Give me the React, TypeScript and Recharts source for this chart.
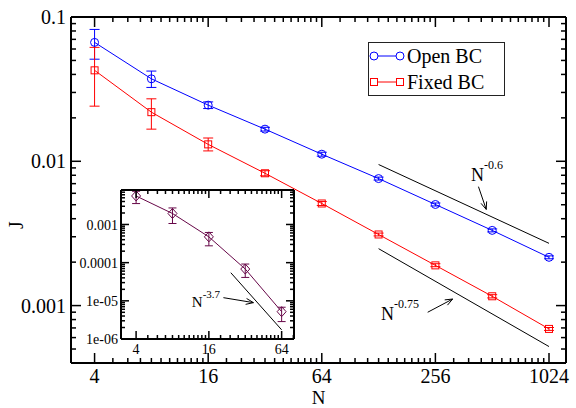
import { ComposedChart, Line, XAxis, YAxis, ErrorBar, ReferenceLine, Legend, CartesianGrid } from 'recharts';

const FONT = "'Liberation Serif', 'Times New Roman', Times, 'DejaVu Serif', serif";
const BLUE = '#0000ff';
const RED = '#ff0000';
const PURPLE = '#670748';

// main plot: J vs N
const N_MAIN = [4, 8, 16, 32, 64, 128, 256, 512, 1024];
const OPEN_J = [0.0667, 0.0373, 0.0245, 0.0167, 0.0112, 0.00759, 0.00502, 0.00332, 0.00216];
const OPEN_LO = [0.051, 0.0325, 0.0232, 0.0162, 0.01085, 0.00741, 0.0049, 0.00324, 0.00211];
const OPEN_HI = [0.082, 0.0422, 0.0258, 0.0172, 0.01155, 0.00777, 0.00514, 0.0034, 0.00221];
const FIXED_J = [0.0427, 0.0219, 0.0131, 0.00826, 0.0051, 0.00311, 0.0019, 0.00116, 0.000689];
const FIXED_LO = [0.0241, 0.0167, 0.0118, 0.00793, 0.00494, 0.00304, 0.00186, 0.00113, 0.000673];
const FIXED_HI = [0.0616, 0.0271, 0.0145, 0.0086, 0.00526, 0.00318, 0.00195, 0.00119, 0.000705];

// inset
const N_INSET = [4, 8, 16, 32, 64];
const INSET_J = [0.00558, 0.00194, 0.000474, 6.8e-5, 5.2e-6];
const INSET_LO = [0.00353, 0.00106, 0.000276, 4.1e-5, 2.86e-6];
const INSET_HI = [0.0074, 0.00271, 0.000618, 9.2e-5, 6.8e-6];

// guide lines (power laws) and their arrows
const GUIDE_06 = [{ x: 128, y: 0.0095 }, { x: 1024, y: 0.0027 }];
const GUIDE_075 = [{ x: 128, y: 0.00248 }, { x: 1024, y: 0.00052 }];
const GUIDE_37 = [{ x: 24.3, y: 5.45e-5 }, { x: 64, y: 1.74e-6 }];
const ARROW_06 = [{ x: 433, y: 0.00667 }, { x: 476, y: 0.00464 }];
const ARROW_075 = [{ x: 233, y: 0.000899 }, { x: 316, y: 0.00111 }];
const ARROW_37 = [{ x: 21.1, y: 1.21e-5 }, { x: 37.4, y: 8.97e-6 }];

const X_MAIN_MAJOR = [4, 16, 64, 256, 1024];
const X_INSET_MAJOR = [4, 16, 64];
const MAIN_X_DOMAIN = [3, 1260];
const MAIN_Y_DOMAIN = [0.0004, 0.1];
const INSET_X_DOMAIN = [3, 81];
const INSET_Y_DOMAIN = [1e-6, 0.008];

const mainData = N_MAIN.map((n, i) => ({
  n,
  open: OPEN_J[i],
  openErr: [OPEN_J[i] - OPEN_LO[i], OPEN_HI[i] - OPEN_J[i]],
  fixed: FIXED_J[i],
  fixedErr: [FIXED_J[i] - FIXED_LO[i], FIXED_HI[i] - FIXED_J[i]],
}));

const insetData = N_INSET.map((n, i) => ({
  n,
  j: INSET_J[i],
  err: [INSET_J[i] - INSET_LO[i], INSET_HI[i] - INSET_J[i]],
}));

// ticks: majors at powers of 4 with linear minor steps, decades on y
const pow4Ticks = (majors: number[], max: number) => {
  const t: number[] = [];
  majors.forEach((a) => {
    t.push(a);
    for (let k = 5; k <= 15; k++) if ((a * k) / 4 <= max) t.push((a * k) / 4);
  });
  return t;
};
const decadeTicks = (lo: number, hi: number) => {
  const t: number[] = [];
  for (let e = -7; e <= 0; e++) {
    for (let m = 1; m <= 9; m++) {
      const v = m * Math.pow(10, e);
      if (v >= lo * 0.999 && v <= hi * 1.001) t.push(v);
    }
  }
  return t;
};
const xMainTicks = pow4Ticks(X_MAIN_MAJOR, 1024).filter((v) => v <= 1024);
const yMainTicks = decadeTicks(MAIN_Y_DOMAIN[0], MAIN_Y_DOMAIN[1]);
const xInsetTicks = pow4Ticks(X_INSET_MAJOR, INSET_X_DOMAIN[1]);
const yInsetTicks = decadeTicks(INSET_Y_DOMAIN[0], INSET_Y_DOMAIN[1]);

const isDecade = (v: number) => Math.abs(Math.log10(v) - Math.round(Math.log10(v))) < 1e-6;
const isPow4 = (v: number) => {
  const l = Math.log(v) / Math.log(4);
  return Math.abs(l - Math.round(l)) < 1e-6;
};
const fmtMainY = (v: number) => String(Number(v.toPrecision(1)));
const fmtInsetY = (v: number) => {
  const e = Math.round(Math.log10(v));
  return e >= -4 ? String(Number(v.toPrecision(1))) : `1e-0${-e}`;
};

function makeTick(
  side: 'bottom' | 'top' | 'left' | 'right',
  isMajor: (v: number) => boolean,
  len: [number, number],
  format?: (v: number) => string,
  fontSize = 20,
  gap = 0
) {
  return (props: any) => {
    const { x, y, payload, index } = props;
    const v = payload.value;
    const major = isMajor(v);
    const L = major ? len[0] : len[1];
    let pts = [x, y, x, y];
    let text = null;
    if (side === 'bottom') {
      pts = [x, y, x, y - L];
      if (major && format)
        text = (
          <text x={x} y={y + gap} textAnchor="middle" fontSize={fontSize} style={{ fontFamily: FONT }} fill="#000">
            {format(v)}
          </text>
        );
    } else if (side === 'top') {
      pts = [x, y, x, y + L];
    } else if (side === 'left') {
      pts = [x, y, x + L, y];
      if (major && format)
        text = (
          <text x={x - gap} y={y} dy="0.36em" textAnchor="end" fontSize={fontSize} style={{ fontFamily: FONT }} fill="#000">
            {format(v)}
          </text>
        );
    } else {
      pts = [x, y, x - L, y];
    }
    return (
      <g key={`t-${side}-${index}`}>
        <line x1={pts[0]} y1={pts[1]} x2={pts[2]} y2={pts[3]} stroke="#000" strokeWidth={1.5} />
        {text}
      </g>
    );
  };
}

const circleDot = (p: any) =>
  p.cx == null ? <g key={`c-${p.index}`} /> : (
    <circle key={`c-${p.index}`} cx={p.cx} cy={p.cy} r={4} fill="none" stroke={BLUE} strokeWidth={1} />
  );
const squareDot = (p: any) =>
  p.cx == null ? <g key={`s-${p.index}`} /> : (
    <rect key={`s-${p.index}`} x={p.cx - 3.5} y={p.cy - 3.5} width={7} height={7} fill="none" stroke={RED} strokeWidth={1} />
  );
const diamondDot = (p: any) =>
  p.cx == null ? <g key={`d-${p.index}`} /> : (
    <path
      key={`d-${p.index}`}
      d={`M${p.cx},${p.cy - 5} L${p.cx + 4.5},${p.cy} L${p.cx},${p.cy + 5} L${p.cx - 4.5},${p.cy} Z`}
      fill="none"
      stroke={PURPLE}
      strokeWidth={1}
    />
  );

// arrow with a power-law label placed next to its tail
function arrowShape(exp: string, dx: number, dy: number, nSize: number, supSize: number, supRise: number) {
  return (props: any) => {
    const { x1, y1, x2, y2 } = props;
    if (x1 == null) return <g />;
    const ang = Math.atan2(y2 - y1, x2 - x1);
    const h = 8;
    const s = 0.38;
    const a = [x2 - h * Math.cos(ang - s), y2 - h * Math.sin(ang - s)];
    const b = [x2 - h * Math.cos(ang + s), y2 - h * Math.sin(ang + s)];
    return (
      <g>
        <line x1={x1} y1={y1} x2={x2} y2={y2} stroke="#000" strokeWidth={1} />
        <polyline points={`${a[0]},${a[1]} ${x2},${y2} ${b[0]},${b[1]}`} fill="none" stroke="#000" strokeWidth={1} />
        <text x={x1 + dx} y={y1 + dy} style={{ fontFamily: FONT }} fill="#000">
          <tspan fontSize={nSize}>N</tspan>
          <tspan fontSize={supSize} dy={-supRise}>{exp}</tspan>
        </text>
      </g>
    );
  };
}

const LEGEND_ITEMS = [
  { name: 'Open BC', color: BLUE, shape: 'circle' },
  { name: 'Fixed BC', color: RED, shape: 'square' },
];

const renderLegend = () => (
  <div
    style={{
      border: '1px solid #222',
      background: '#fff',
      width: 135,
      fontFamily: FONT,
      fontSize: 20,
      color: '#000',
    }}
  >
    {LEGEND_ITEMS.map((item) => (
      <div key={item.name} style={{ display: 'flex', alignItems: 'center', height: 26, lineHeight: '26px' }}>
        <svg width={38} height={26}>
          <line x1={5} y1={13} x2={31} y2={13} stroke={item.color} strokeWidth={1} />
          {[5, 31].map((cx) =>
            item.shape === 'circle' ? (
              <circle key={cx} cx={cx} cy={13} r={4} fill="#fff" stroke={item.color} />
            ) : (
              <rect key={cx} x={cx - 3.5} y={9.5} width={7} height={7} fill="#fff" stroke={item.color} />
            )
          )}
        </svg>
        <span>{item.name}</span>
      </div>
    ))}
  </div>
);

const axisLine = { stroke: '#000', strokeWidth: 2 };

export default function App() {
  return (
    <div style={{ position: 'absolute', left: 0, top: 0, width: 576, height: 408, background: '#fff', fontFamily: FONT }}>
      <ComposedChart width={576} height={408} data={mainData} margin={{ top: 0, right: 0, bottom: 0, left: 0 }}>
        <XAxis
          dataKey="n"
          type="number"
          scale="log"
          domain={MAIN_X_DOMAIN}
          allowDataOverflow
          ticks={xMainTicks}
          interval={0}
          height={45}
          tickSize={0}
          tickMargin={0}
          tickLine={false}
          axisLine={axisLine}
          tick={makeTick('bottom', isPow4, [10, 5], (v) => String(v), 20, 20)}
          label={(p: any) => {
            const vb = p.viewBox;
            return (
              <text x={vb.x + vb.width / 2} y={vb.y + 41} textAnchor="middle" fontSize={19} style={{ fontFamily: FONT }} fill="#000">
                N
              </text>
            );
          }}
        />
        <XAxis
          xAxisId="top"
          orientation="top"
          dataKey="n"
          type="number"
          scale="log"
          domain={MAIN_X_DOMAIN}
          allowDataOverflow
          ticks={xMainTicks}
          interval={0}
          height={17}
          tickSize={0}
          tickMargin={0}
          tickLine={false}
          axisLine={axisLine}
          tick={makeTick('top', isPow4, [10, 5])}
        />
        <YAxis
          type="number"
          scale="log"
          domain={MAIN_Y_DOMAIN}
          allowDataOverflow
          ticks={yMainTicks}
          interval={0}
          width={71}
          tickSize={0}
          tickMargin={0}
          tickLine={false}
          axisLine={axisLine}
          tick={makeTick('left', isDecade, [10, 5], fmtMainY, 20, 5)}
          label={(p: any) => {
            const vb = p.viewBox;
            const cx = vb.x + 16;
            const cy = vb.y + vb.height / 2 + 35;
            return (
              <text x={cx} y={cy} dy="0.36em" textAnchor="middle" style={{ fontFamily: FONT }} fontSize={20} fill="#000" transform={`rotate(-90, ${cx}, ${cy})`}>
                J
              </text>
            );
          }}
        />
        <YAxis
          yAxisId="right"
          orientation="right"
          type="number"
          scale="log"
          domain={MAIN_Y_DOMAIN}
          allowDataOverflow
          ticks={yMainTicks}
          interval={0}
          width={10}
          tickSize={0}
          tickMargin={0}
          tickLine={false}
          axisLine={axisLine}
          tick={makeTick('right', isDecade, [10, 5])}
        />
        <ReferenceLine segment={GUIDE_06} stroke="#000" strokeWidth={1} />
        <ReferenceLine segment={GUIDE_075} stroke="#000" strokeWidth={1} />
        <ReferenceLine segment={ARROW_06} shape={arrowShape('-0.6', -7.5, -6, 18, 12, 12)} />
        <ReferenceLine segment={ARROW_075} shape={arrowShape('-0.75', -46.6, 7.7, 18, 12, 12)} />
        <Line dataKey="open" stroke={BLUE} strokeWidth={1} dot={circleDot} activeDot={false} isAnimationActive={false}>
          <ErrorBar dataKey="openErr" width={5} stroke={BLUE} strokeWidth={1} direction="y" isAnimationActive={false} />
        </Line>
        <Line dataKey="fixed" stroke={RED} strokeWidth={1} dot={squareDot} activeDot={false} isAnimationActive={false}>
          <ErrorBar dataKey="fixedErr" width={5} stroke={RED} strokeWidth={1} direction="y" isAnimationActive={false} />
        </Line>
        <Legend
          layout="vertical"
          align="center"
          verticalAlign="middle"
          wrapperStyle={{ left: 368, top: 42, width: 'auto' }}
          content={renderLegend}
        />
      </ComposedChart>

      {/* inset */}
      <div style={{ position: 'absolute', left: 60, top: 180 }}>
        <ComposedChart width={244} height={180} data={insetData} margin={{ top: 0, right: 0, bottom: 0, left: 0 }}>
          <CartesianGrid fill="#fff" stroke="none" horizontal={false} vertical={false} />
          <XAxis
            dataKey="n"
            type="number"
            scale="log"
            domain={INSET_X_DOMAIN}
            allowDataOverflow
            ticks={xInsetTicks}
            interval={0}
            height={21}
            tickSize={0}
            tickMargin={0}
            tickLine={false}
            axisLine={axisLine}
            tick={makeTick('bottom', isPow4, [8, 4], (v) => String(v), 14, 15)}
          />
          <XAxis
            xAxisId="top"
            orientation="top"
            dataKey="n"
            type="number"
            scale="log"
            domain={INSET_X_DOMAIN}
            allowDataOverflow
            ticks={xInsetTicks}
            interval={0}
            height={10}
            tickSize={0}
            tickMargin={0}
            tickLine={false}
            axisLine={axisLine}
            tick={makeTick('top', isPow4, [8, 4])}
          />
          <YAxis
            type="number"
            scale="log"
            domain={INSET_Y_DOMAIN}
            allowDataOverflow
            ticks={yInsetTicks}
            interval={0}
            width={61}
            tickSize={0}
            tickMargin={0}
            tickLine={false}
            axisLine={axisLine}
            tick={makeTick('left', isDecade, [8, 4], fmtInsetY, 14, 3)}
          />
          <YAxis
            yAxisId="right"
            orientation="right"
            type="number"
            scale="log"
            domain={INSET_Y_DOMAIN}
            allowDataOverflow
            ticks={yInsetTicks}
            interval={0}
            width={10}
            tickSize={0}
            tickMargin={0}
            tickLine={false}
            axisLine={axisLine}
            tick={makeTick('right', isDecade, [8, 4])}
          />
          <ReferenceLine segment={GUIDE_37} stroke="#000" strokeWidth={1} />
          <ReferenceLine segment={ARROW_37} shape={arrowShape('-3.7', -31.6, 9, 15, 11, 9)} />
          <Line dataKey="j" stroke={PURPLE} strokeWidth={1} dot={diamondDot} activeDot={false} isAnimationActive={false}>
            <ErrorBar dataKey="err" width={4} stroke={PURPLE} strokeWidth={1} direction="y" isAnimationActive={false} />
          </Line>
        </ComposedChart>
      </div>
    </div>
  );
}
